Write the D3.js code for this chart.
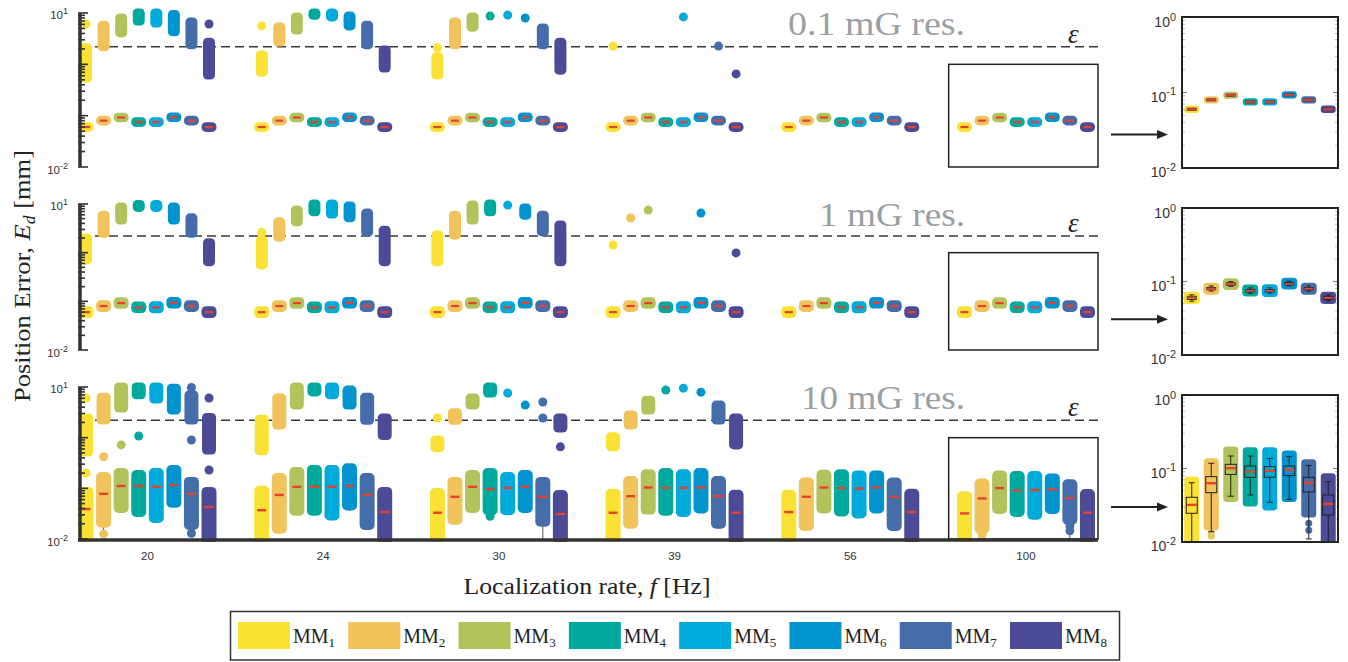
<!DOCTYPE html>
<html>
<head>
<meta charset="utf-8">
<script src="https://cdn.jsdelivr.net/npm/d3@7"></script>
<style>
  body { margin: 0; background: #fff; }
  svg { display: block; }
</style>
</head>
<body>
<svg id="chart" width="1348" height="662"></svg>
<script>
// ---- data ----
const rates = ['20', '24', '30', '39', '56', '100'];
const mmSub = ['1', '2', '3', '4', '5', '6', '7', '8'];
const mmColors = ['#F9E234', '#F1C35B', '#B3C35C', '#00A99E', '#00AADB', '#0093CE', '#456DAA', '#4B4B97'];
const resLabels = ['0.1 mG res.', '1 mG res.', '10 mG res.'];
const epsilon = 2.2;

// 0.1 mG and 1 mG: tight clusters, same at every rate
const pillMedian = [0.060, 0.080, 0.092, 0.075, 0.075, 0.093, 0.080, 0.060];
const pillLo01 = [0.059, 0.079, 0.091, 0.074, 0.074, 0.092, 0.079, 0.059];
const pillHi01 = [0.061, 0.081, 0.093, 0.076, 0.076, 0.094, 0.081, 0.061];
const pillLo1 = [0.056, 0.075, 0.087, 0.071, 0.070, 0.088, 0.075, 0.056];
const pillHi1 = [0.064, 0.085, 0.098, 0.080, 0.081, 0.099, 0.085, 0.064];
// 1 mG box stats (inset)
const boxLo1 = [0.057, 0.077, 0.089, 0.072, 0.072, 0.090, 0.077, 0.057];
const boxHi1 = [0.063, 0.083, 0.096, 0.078, 0.078, 0.097, 0.083, 0.063];
const whLo1 = [0.054, 0.074, 0.086, 0.069, 0.069, 0.087, 0.074, 0.054];
const whHi1 = [0.066, 0.087, 0.100, 0.082, 0.082, 0.101, 0.087, 0.066];

// failed localizations above the clusters: [rate index, MM index, low, high]
const upper01 = [
  [0,0,6.1,6.1],[0,0,0.54,2.1],[0,1,2.2,5.8],[0,2,4.1,8.0],[0,3,7.0,10],[0,4,6.4,10],[0,5,4.3,9.3],[0,6,2.4,6.7],[0,7,6.1,6.1],[0,7,0.62,2.7],
  [1,0,5.6,5.6],[1,0,0.71,1.52],[1,1,2.72,5.33],[1,2,4.66,8.36],[1,3,9.0,10],[1,4,8.4,10],[1,5,5.6,8.7],[1,6,2.4,5.8],[1,7,0.85,1.9],
  [2,0,2.1,2.1],[2,0,0.62,1.4],[2,1,2.4,6.7],[2,2,5.3,8.4],[2,3,8.7,8.7],[2,4,9.1,9.1],[2,5,8.0,8.0],[2,6,2.4,5.1],[2,7,0.77,2.7],
  [3,0,2.27,2.27],[3,4,8.4,8.4],[3,6,2.27,2.27],[3,7,0.65,0.65]
];
const upper1 = [
  [0,0,0.71,2.0],[0,1,2.5,5.9],[0,2,4.7,8.7],[0,3,8.5,9.8],[0,4,8.5,9.8],[0,5,4.7,8.7],[0,6,2.5,5.2],[0,7,0.65,1.6],
  [1,0,2.6,2.6],[1,0,0.56,1.8],[1,1,2.1,4.3],[1,2,4.3,7.5],[1,3,6.9,10],[1,4,6.2,10],[1,5,5.2,9.1],[1,6,2.66,6.5],[1,7,0.65,2.9],
  [2,0,0.65,2.3],[2,1,2.3,5.9],[2,2,4.7,9.5],[2,3,6.9,10],[2,4,9.5,9.5],[2,5,5.9,8.3],[2,6,2.7,5.9],[2,7,0.65,3.7],
  [3,0,1.44,1.44],[3,1,5.16,5.16],[3,2,7.5,7.5],[3,5,6.5,6.5],[3,7,0.99,0.99]
];
const upper10 = [
  [0,0,6.06,6.06],[0,0,0.52,2.45],[0,0,0.2,0.2],[0,1,2.23,6.3],[0,1,0.42,0.42],[0,2,3.85,10],[0,2,0.72,0.72],[0,3,7.0,10],[0,3,1.08,1.08],
  [0,4,5.8,10],[0,5,3.5,9.5],[0,6,9.8,9.8],[0,6,2.23,6.95],[0,6,0.9,0.9],[0,7,6.06,6.06],[0,7,0.57,2.5],[0,7,0.23,0.23],
  [1,0,0.55,2.3],[1,1,1.78,6.06],[1,2,4.4,10],[1,3,8.0,10],[1,4,7.0,10],[1,5,4.4,8.7],[1,6,2.2,6.3],[1,7,1.1,2.45],
  [2,0,2.45,2.45],[2,0,0.63,0.9],[2,1,2.2,3.1],[2,2,4.4,6.1],[2,3,7.6,10],[2,4,7.6,7.6],[2,5,4.4,4.4],[2,6,5.06,5.06],[2,6,2.45,2.45],[2,7,1.55,2.45],[2,7,0.66,0.66],
  [3,0,0.66,1.04],[3,1,1.78,2.8],[3,2,3.5,5.5],[3,3,8.7,8.7],[3,4,9.5,9.5],[3,5,7.9,7.9],[3,6,2.23,4.4],[3,7,0.72,2.45]
];

// 10 mG: spread of the main cluster per rate (rows) and MM (columns)
const cloudLo10 = [
  [0.010, 0.021, 0.041, 0.034, 0.026, 0.052, 0.019, 0.010],
  [0.010, 0.016, 0.036, 0.036, 0.029, 0.046, 0.019, 0.010],
  [0.010, 0.024, 0.041, 0.037, 0.037, 0.041, 0.022, 0.010],
  [0.010, 0.020, 0.038, 0.036, 0.034, 0.040, 0.020, 0.010],
  [0.010, 0.018, 0.040, 0.035, 0.032, 0.040, 0.018, 0.010],
  [0.010, 0.016, 0.039, 0.034, 0.030, 0.039, 0.024, 0.010]
];
const cloudHi10 = [
  [0.085, 0.168, 0.200, 0.184, 0.200, 0.230, 0.134, 0.085],
  [0.090, 0.160, 0.210, 0.230, 0.230, 0.250, 0.160, 0.085],
  [0.081, 0.134, 0.184, 0.200, 0.168, 0.184, 0.134, 0.074],
  [0.078, 0.140, 0.190, 0.200, 0.190, 0.200, 0.140, 0.075],
  [0.075, 0.130, 0.185, 0.190, 0.180, 0.180, 0.130, 0.078],
  [0.070, 0.124, 0.179, 0.175, 0.175, 0.157, 0.120, 0.077]
];
const median10 = [
  [0.039, 0.078, 0.111, 0.111, 0.107, 0.116, 0.078, 0.043],
  [0.037, 0.074, 0.107, 0.107, 0.107, 0.111, 0.074, 0.034],
  [0.033, 0.068, 0.107, 0.097, 0.102, 0.107, 0.068, 0.031],
  [0.033, 0.070, 0.104, 0.102, 0.102, 0.104, 0.070, 0.033],
  [0.034, 0.068, 0.104, 0.101, 0.099, 0.104, 0.068, 0.034],
  [0.032, 0.063, 0.101, 0.091, 0.093, 0.096, 0.064, 0.033]
];
// isolated low points and visible lower whiskers at 10 mG: [rate, MM, value]
const lowDots10 = [[0,1,0.0126],[0,6,0.013],[2,3,0.028],[5,1,0.0135],[5,1,0.012],[5,6,0.018],[5,6,0.0145]];
const lowWhisk10 = [[0,1,0.0126],[0,6,0.013],[2,6,0.010],[1,5,0.036],[5,6,0.010]];
// 10 mG box stats at 100 Hz (inset)
const boxQ1 = [0.0246, 0.0469, 0.083, 0.076, 0.076, 0.080, 0.048, 0.0233];
const boxQ3 = [0.0406, 0.0774, 0.114, 0.108, 0.106, 0.108, 0.076, 0.0436];
const whiskLo = [0.010, 0.0138, 0.042, 0.0436, 0.0347, 0.038, 0.011, 0.010];
const whiskHi = [0.064, 0.118, 0.148, 0.148, 0.137, 0.145, 0.110, 0.066];

// ---- drawing ----
const svg = d3.select('#chart');
const serif = "'Liberation Serif','DejaVu Serif',serif";
const sans = "'Liberation Sans',Arial,sans-serif";
const ink = '#333';
const red = '#E8412F';

const x = d3.scaleLinear().domain([-0.39, 5.41]).range([79, 1098]);
const xm = (g, m) => x(g + (m - 3.5) * 0.1);
const xi = d3.scaleLinear().domain([-0.5, 7.5]).range([1182, 1338]);

const panelBox = [[13, 167], [204, 350], [387, 539]];
const insetBox = [[17, 168], [208, 355], [395, 542]];

function powLabel(g, px, py, sup, size) {
  const t = g.append('text').attr('x', px).attr('y', py).attr('text-anchor', 'end')
    .attr('font-family', sans).attr('font-size', size).attr('fill', ink);
  t.append('tspan').text('10');
  t.append('tspan').attr('dy', -size * 0.45).attr('font-size', size * 0.78).text(sup);
}

const grid = d3.cross(d3.range(rates.length), d3.range(8));

panelBox.forEach(([top, bottom], pi) => {
  const y = d3.scaleLog().domain([0.01, 10]).range([bottom, top]);
  const g = svg.append('g');
  const clipId = 'clip' + pi;
  svg.append('clipPath').attr('id', clipId).append('rect')
    .attr('x', 70).attr('y', top - 12).attr('width', 1040).attr('height', bottom - top + 15);

  // threshold line
  g.append('line')
    .attr('x1', x.range()[0] + 2).attr('x2', x.range()[1])
    .attr('y1', y(epsilon)).attr('y2', y(epsilon))
    .attr('stroke', '#3a3a3a').attr('stroke-width', 1.6).attr('stroke-dasharray', '9,5');

  // resolution label
  const lab = g.append('text').attr('text-anchor', 'end')
    .attr('font-family', serif).attr('font-size', 34).attr('fill', '#9a9fa4')
    .text(resLabels[pi]);
  const w = lab.node().getComputedTextLength();
  const target = [177, 146, 164][pi];
  lab.attr('transform', `translate(965,${top + 22}) scale(${target / w},1)`);

  g.append('text').attr('x', 1068).attr('y', y(epsilon) - 4)
    .attr('font-family', serif).attr('font-style', 'italic').attr('font-size', 27)
    .attr('fill', '#222').text('\u03B5');

  const dl = g.append('g').attr('clip-path', `url(#${clipId})`);
  const ups = [upper01, upper1, upper10][pi];
  const r = 4.5;
  const wide = pi === 2 ? 14 : 12;
  dl.selectAll('rect.up').data(ups).join('rect').attr('class', 'up')
    .attr('x', d => xm(d[0], d[1]) - (d[2] === d[3] ? r : wide / 2))
    .attr('y', d => y(d[3]) - r)
    .attr('width', d => d[2] === d[3] ? 2 * r : wide)
    .attr('height', d => y(d[2]) - y(d[3]) + 2 * r)
    .attr('rx', r)
    .attr('fill', d => mmColors[d[1]]);

  if (pi < 2) {
    const lo = pi === 0 ? pillLo01 : pillLo1;
    const hi = pi === 0 ? pillHi01 : pillHi1;
    dl.selectAll('rect.pill').data(grid).join('rect').attr('class', 'pill')
      .attr('x', d => xm(d[0], d[1]) - 7.5)
      .attr('y', d => y(hi[d[1]]) - 4.5)
      .attr('width', 15)
      .attr('height', d => y(lo[d[1]]) - y(hi[d[1]]) + 9)
      .attr('rx', 4.5)
      .attr('fill', d => mmColors[d[1]]);
    dl.selectAll('rect.med').data(grid).join('rect').attr('class', 'med')
      .attr('x', d => xm(d[0], d[1]) - 4)
      .attr('y', d => y(pillMedian[d[1]]) - 1.1)
      .attr('width', 8).attr('height', 2.2)
      .attr('fill', red);
  } else {
    dl.selectAll('line.wh').data(lowWhisk10).join('line').attr('class', 'wh')
      .attr('x1', d => xm(d[0], d[1])).attr('x2', d => xm(d[0], d[1]))
      .attr('y1', d => y(cloudLo10[d[0]][d[1]])).attr('y2', d => y(d[2]))
      .attr('stroke', '#555').attr('stroke-width', 1);
    dl.selectAll('circle.low').data(lowDots10).join('circle').attr('class', 'low')
      .attr('cx', d => xm(d[0], d[1])).attr('cy', d => y(d[2])).attr('r', 4.5)
      .attr('fill', d => mmColors[d[1]]);
    dl.selectAll('rect.cloud').data(grid).join('rect').attr('class', 'cloud')
      .attr('x', d => xm(d[0], d[1]) - 7.5)
      .attr('y', d => y(cloudHi10[d[0]][d[1]]) - 5)
      .attr('width', 15)
      .attr('height', d => y(cloudLo10[d[0]][d[1]]) - y(cloudHi10[d[0]][d[1]]) + 10)
      .attr('rx', 5)
      .attr('fill', d => mmColors[d[1]]);
    dl.selectAll('rect.med').data(grid).join('rect').attr('class', 'med')
      .attr('x', d => xm(d[0], d[1]) - 4.5)
      .attr('y', d => y(median10[d[0]][d[1]]) - 1.2)
      .attr('width', 9).attr('height', 2.4)
      .attr('fill', red);
  }

  // zoomed region
  g.append('rect')
    .attr('x', x(4.56)).attr('y', y(1))
    .attr('width', x.range()[1] - x(4.56)).attr('height', y(0.01) - y(1))
    .attr('fill', 'none').attr('stroke', '#222').attr('stroke-width', 1.5);

  // arrow to inset
  const ay = y(0.043);
  g.append('line').attr('x1', 1111).attr('x2', 1160).attr('y1', ay).attr('y2', ay)
    .attr('stroke', '#222').attr('stroke-width', 2);
  g.append('path').attr('d', `M1168,${ay}L1157,${ay - 4.5}L1157,${ay + 4.5}Z`).attr('fill', '#222');

  // left log axis
  const ax = g.append('g');
  const x0 = 80;
  ax.selectAll('line.tk').data(y.ticks()).join('line').attr('class', 'tk')
    .attr('x1', x0 - 2)
    .attr('x2', d => Math.abs(Math.log10(d) - Math.round(Math.log10(d))) < 1e-6 ? x0 + 8 : x0 + 5)
    .attr('y1', d => y(d)).attr('y2', d => y(d))
    .attr('stroke', ink).attr('stroke-width', 1.6);
  ax.append('line').attr('x1', x0).attr('x2', x0).attr('y1', top).attr('y2', bottom)
    .attr('stroke', ink).attr('stroke-width', 3.5);
  powLabel(ax, 68, top + 6, '1', 11.5);
  powLabel(ax, 68, bottom + 7, '-2', 11.5);

  if (pi === 2) {
    ax.append('line').attr('x1', 78).attr('x2', 1098).attr('y1', bottom + 1).attr('y2', bottom + 1)
      .attr('stroke', ink).attr('stroke-width', 3.5);
    ax.selectAll('text.rate').data(rates).join('text').attr('class', 'rate')
      .attr('x', (d, i) => x(i)).attr('y', bottom + 21)
      .attr('text-anchor', 'middle').attr('font-family', sans).attr('font-size', 11.5)
      .attr('fill', ink).text(d => d);
  }
});

// insets (100 Hz)
insetBox.forEach(([top, bottom], pi) => {
  const y = d3.scaleLog().domain([0.01, 1]).range([bottom, top]);
  const g = svg.append('g');
  const m8 = d3.range(8);

  if (pi < 2) {
    const lo = pi === 0 ? pillLo01 : pillLo1;
    const hi = pi === 0 ? pillHi01 : pillHi1;
    const pr = pi === 0 ? 3.2 : 4;
    const pw = pi === 0 ? 15 : 16;
    g.selectAll('rect.pill').data(m8).join('rect')
      .attr('x', d => xi(d) - pw / 2).attr('y', d => y(hi[d]) - pr)
      .attr('width', pw).attr('height', d => y(lo[d]) - y(hi[d]) + 2 * pr)
      .attr('rx', pr).attr('fill', d => mmColors[d]);
    if (pi === 1) {
      g.selectAll('path.wh').data(m8).join('path')
        .attr('d', d => `M${xi(d)},${y(whHi1[d])}V${y(whLo1[d])}M${xi(d) - 2.5},${y(whHi1[d])}h5M${xi(d) - 2.5},${y(whLo1[d])}h5`)
        .attr('stroke', '#222').attr('stroke-width', 0.9).attr('fill', 'none');
      g.selectAll('rect.box').data(m8).join('rect')
        .attr('x', d => xi(d) - 4.5).attr('y', d => y(boxHi1[d]))
        .attr('width', 9).attr('height', d => y(boxLo1[d]) - y(boxHi1[d]))
        .attr('fill', d => mmColors[d]).attr('stroke', '#222').attr('stroke-width', 0.9);
    } else {
      g.selectAll('rect.box').data(m8).join('rect')
        .attr('x', d => xi(d) - 5).attr('y', d => y(pillMedian[d]) - 1.6)
        .attr('width', 10).attr('height', 3.2).attr('fill', '#6a3a48');
    }
    g.selectAll('rect.med').data(m8).join('rect')
      .attr('x', d => xi(d) - 4.5).attr('y', d => y(pillMedian[d]) - 0.9)
      .attr('width', 9).attr('height', 1.8).attr('fill', red);
  } else {
    const row = rates.length - 1;
    const dl = g.append('g');
    svg.append('clipPath').attr('id', 'clipInset').append('rect')
      .attr('x', 1182).attr('y', top).attr('width', 156).attr('height', bottom - top);
    dl.attr('clip-path', 'url(#clipInset)');
    dl.selectAll('circle.low').data(lowDots10.filter(d => d[0] === row)).join('circle')
      .attr('cx', d => xi(d[1])).attr('cy', d => y(d[2])).attr('r', 3.5)
      .attr('fill', d => mmColors[d[1]]);
    dl.selectAll('rect.cloud').data(m8).join('rect')
      .attr('x', d => xi(d) - 7.5).attr('y', d => y(cloudHi10[row][d]) - 3.5)
      .attr('width', 15).attr('height', d => y(cloudLo10[row][d]) - y(cloudHi10[row][d]) + 7)
      .attr('rx', 3.5).attr('fill', d => mmColors[d]);
    dl.selectAll('path.wh').data(m8).join('path')
      .attr('d', d => `M${xi(d)},${y(whiskHi[d])}V${y(whiskLo[d])}M${xi(d) - 3},${y(whiskHi[d])}h6M${xi(d) - 3},${y(whiskLo[d])}h6`)
      .attr('stroke', '#222').attr('stroke-width', 1).attr('fill', 'none');
    dl.selectAll('rect.box').data(m8).join('rect')
      .attr('x', d => xi(d) - 5.5).attr('y', d => y(boxQ3[d]))
      .attr('width', 11).attr('height', d => y(boxQ1[d]) - y(boxQ3[d]))
      .attr('fill', d => mmColors[d]).attr('stroke', '#222').attr('stroke-width', 1);
    dl.selectAll('rect.med').data(m8).join('rect')
      .attr('x', d => xi(d) - 5).attr('y', d => y(median10[row][d]) - 1.2)
      .attr('width', 10).attr('height', 2.4).attr('fill', red);
  }

  // inset frame and ticks
  const tks = y.ticks();
  const major = d => Math.abs(Math.log10(d) - Math.round(Math.log10(d))) < 1e-6;
  g.selectAll('path.tk').data(tks).join('path')
    .attr('d', d => {
      const l = major(d) ? 5 : 3;
      return `M1182,${y(d)}h${l}M1338,${y(d)}h${-l}`;
    })
    .attr('stroke', d => major(d) ? '#555' : '#aaa').attr('stroke-width', 0.8);
  g.append('rect').attr('x', 1182).attr('y', top).attr('width', 156).attr('height', bottom - top)
    .attr('fill', 'none').attr('stroke', '#222').attr('stroke-width', 2);
  powLabel(g, 1176, top + 10, '0', 14);
  powLabel(g, 1176, y(0.1) + 9, '-1', 14);
  powLabel(g, 1176, bottom + 9, '-2', 14);
});

// axis titles
const xt = svg.append('text').attr('text-anchor', 'middle')
  .attr('font-family', serif).attr('font-size', 24).attr('fill', '#222');
xt.append('tspan').text('Localization rate, ');
xt.append('tspan').attr('font-style', 'italic').text('f');
xt.append('tspan').text(' [Hz]');
xt.attr('transform', `translate(587,594) scale(${247 / xt.node().getComputedTextLength()},1)`);

const yt = svg.append('text').attr('text-anchor', 'middle')
  .attr('font-family', serif).attr('font-size', 24).attr('fill', '#222');
yt.append('tspan').text('Position Error, ');
yt.append('tspan').attr('font-style', 'italic').text('E');
yt.append('tspan').attr('font-style', 'italic').attr('font-size', 16).attr('dy', 5).text('d');
yt.append('tspan').attr('dy', -5).text(' [mm]');
yt.attr('transform', `translate(30,276) rotate(-90) scale(${252 / yt.node().getComputedTextLength()},1)`);

// legend
const lg = svg.append('g');
lg.append('rect').attr('x', 230.5).attr('y', 611.5).attr('width', 889).attr('height', 48.5)
  .attr('fill', '#fff').attr('stroke', '#333').attr('stroke-width', 1.5);
const lx = d3.scaleLinear().domain([0, 7]).range([238, 1010]);
const items = lg.selectAll('g.item').data(mmSub).join('g')
  .attr('transform', (d, i) => `translate(${lx(i)},622)`);
items.append('rect').attr('width', 52).attr('height', 27).attr('fill', (d, i) => mmColors[i]);
const lt = items.append('text').attr('x', 55).attr('y', 21)
  .attr('font-family', serif).attr('font-size', 20).attr('fill', '#222');
lt.append('tspan').text('MM');
lt.append('tspan').attr('font-size', 13).attr('dy', 4).text(d => d);
</script>
</body>
</html>
